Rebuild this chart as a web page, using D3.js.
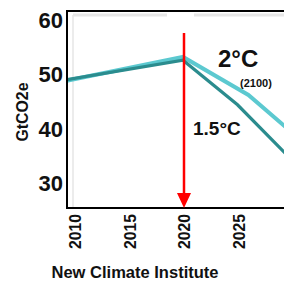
<!DOCTYPE html>
<html><head><meta charset="utf-8">
<script src="https://cdn.jsdelivr.net/npm/d3@7"></script>
<style>html,body{margin:0;padding:0;background:#fff;}svg{display:block;}</style>
</head><body>
<script>
const yTicks = [30, 40, 50, 60];
const xTicks = [2010, 2015, 2020, 2025, 2030];
const lightYears = [2009, 2020, 2026, 2030];
const lightValues = [48.7, 53.2, 46.2, 39.3];
const darkYears = [2009, 2020, 2025, 2030];
const darkValues = [48.9, 52.6, 44.4, 34.2];
const markerYear = 2020;
const yTitle = "GtCO2e";
const source = "New Climate Institute";
const label2 = "2°C", label2sub = "(2100)", label15 = "1.5°C";

const W = 284, H = 281;
const pLeft = 67, pTop = 11, pBottom = 208, pRight = 284;
const font = "'Liberation Sans', Arial, sans-serif";

const x = d3.scaleLinear().domain([2010, 2020]).range([74, 183]);
const y = d3.scaleLinear().domain([30, 60]).range([183, 20]);

const svg = d3.select("body").append("svg").attr("width", W).attr("height", H);

svg.append("defs").append("clipPath").attr("id", "clip")
  .append("rect").attr("x", pLeft).attr("y", pTop).attr("width", pRight - pLeft).attr("height", pBottom - pTop);

// faint inner frame
svg.append("line").attr("x1", 73).attr("x2", 73).attr("y1", 15).attr("y2", pBottom)
  .attr("stroke", "#ececec").attr("stroke-width", 2);
svg.append("line").attr("x1", 73).attr("x2", 167).attr("y1", 15).attr("y2", 15)
  .attr("stroke", "#e6e6e6").attr("stroke-width", 3);
svg.append("line").attr("x1", 194).attr("x2", pRight).attr("y1", 15).attr("y2", 15)
  .attr("stroke", "#e6e6e6").attr("stroke-width", 3);

// lines
const line = d3.line().x(d => x(d[0])).y(d => y(d[1]));
const g = svg.append("g").attr("clip-path", "url(#clip)");
g.append("path").datum(lightYears.map((yr, i) => [yr, lightValues[i]]))
  .attr("d", line).attr("fill", "none").attr("stroke", "#5cc9d0").attr("stroke-width", 4);
g.append("path").datum(darkYears.map((yr, i) => [yr, darkValues[i]]))
  .attr("d", line).attr("fill", "none").attr("stroke", "#2b8c8e").attr("stroke-width", 3.2);

// axes frame
svg.append("line").attr("x1", pLeft).attr("x2", pRight).attr("y1", pTop).attr("y2", pTop)
  .attr("stroke", "#000").attr("stroke-width", 2);
svg.append("line").attr("x1", pLeft).attr("x2", pLeft).attr("y1", pTop - 1).attr("y2", pBottom + 1)
  .attr("stroke", "#000").attr("stroke-width", 2);
svg.append("line").attr("x1", pLeft - 1).attr("x2", pRight).attr("y1", pBottom).attr("y2", pBottom)
  .attr("stroke", "#000").attr("stroke-width", 2);

// y tick labels
svg.append("g").selectAll("text").data(yTicks).join("text")
  .attr("x", 63).attr("y", d => y(d)).attr("dy", "0.36em")
  .attr("text-anchor", "end").attr("font-family", font).attr("font-weight", "bold")
  .attr("font-size", 22).attr("fill", "#111").text(d => d);

// x tick labels
svg.append("g").selectAll("text").data(xTicks).join("text")
  .attr("transform", d => `translate(${x(d) + 1},214) rotate(-90)`)
  .attr("dy", "0.36em").attr("text-anchor", "end").attr("font-family", font)
  .attr("font-weight", "bold").attr("font-size", 17)
  .attr("textLength", 35).attr("lengthAdjust", "spacingAndGlyphs")
  .attr("fill", "#111").text(d => d);

// y title
svg.append("text").attr("transform", "translate(22,112) rotate(-90)")
  .attr("dy", "0.36em").attr("text-anchor", "middle").attr("font-family", font)
  .attr("font-weight", "bold").attr("font-size", 17)
  .attr("textLength", 59).attr("lengthAdjust", "spacingAndGlyphs")
  .attr("fill", "#111").text(yTitle);

// source
svg.append("text").attr("x", 135).attr("y", 278).attr("text-anchor", "middle")
  .attr("font-family", font).attr("font-weight", "bold").attr("font-size", 17)
  .attr("textLength", 167).attr("lengthAdjust", "spacingAndGlyphs")
  .attr("fill", "#111").text(source);

// red arrow
const ax = x(markerYear) + 1;
svg.append("line").attr("x1", ax).attr("x2", ax).attr("y1", 33).attr("y2", 195)
  .attr("stroke", "#ff0000").attr("stroke-width", 2.5);
svg.append("path").attr("d", `M${ax - 7},193 L${ax + 7},193 L${ax},208 Z`).attr("fill", "#ff0000");

// annotations
svg.append("text").attr("x", 218).attr("y", 67).attr("font-family", font)
  .attr("font-weight", "bold").attr("font-size", 24).attr("fill", "#111").text(label2);
svg.append("text").attr("x", 240).attr("y", 87).attr("font-family", font)
  .attr("font-weight", "bold").attr("font-size", 11).attr("fill", "#111").text(label2sub);
svg.append("text").attr("x", 193).attr("y", 135).attr("font-family", font)
  .attr("font-weight", "bold").attr("font-size", 19).attr("fill", "#111").text(label15);
</script>
</body></html>
